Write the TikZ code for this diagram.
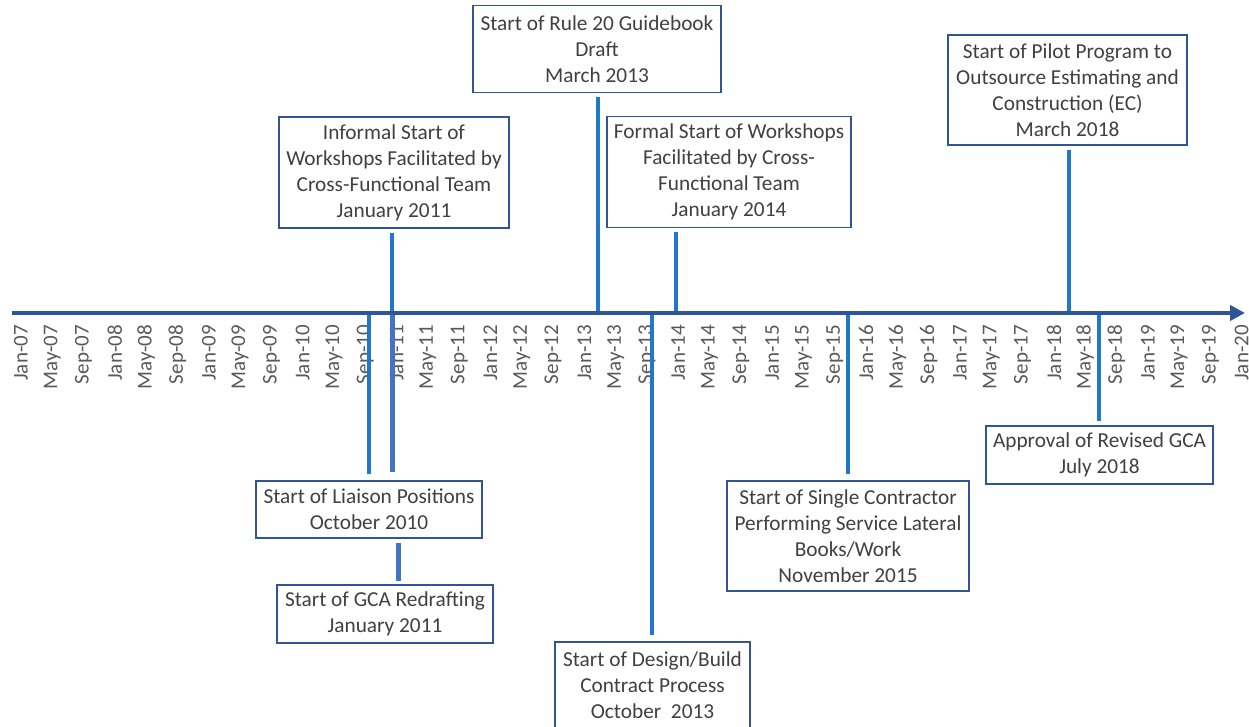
\documentclass[tikz,border=0pt]{standalone}
\usepackage{fontspec}
\setmainfont{Carlito}
\usetikzlibrary{arrows.meta}
\definecolor{axisblue}{RGB}{47,85,151}
\definecolor{linkblue}{RGB}{33,119,204}
\definecolor{gcablue}{RGB}{68,114,196}
\definecolor{boxblue}{RGB}{47,85,151}
\definecolor{txt}{RGB}{64,64,64}
\definecolor{ticktxt}{RGB}{89,89,89}
\begin{document}
\begin{tikzpicture}[x=1pt,y=-1pt,
  evbox/.style={draw=boxblue, line width=1.6pt, fill=white, align=center, text=txt, inner sep=0pt, font=\fontsize{21.3}{26}\selectfont},
  link/.style={draw=linkblue, line width=4pt},
  gcalink/.style={draw=gcablue, line width=5pt},
  ticklabel/.style={rotate=90, anchor=east, inner sep=0pt, text=ticktxt, font=\fontsize{21}{24}\selectfont}]
\useasboundingbox (0,0) rectangle (1249,726);
\clip (0,0) rectangle (1249,726);

% tick labels
\foreach \i in {0,...,39}{
  \pgfmathtruncatemacro{\yr}{7+floor(\i/3)}
  \pgfmathtruncatemacro{\mo}{mod(\i,3)}
  \node[ticklabel] (tick\i) at (21+31.3*\i, 325) {\ifcase\mo Jan\or May\or Sep\fi-\ifnum\yr<10 0\fi\yr};
}

% axis points
\coordinate (axL) at (12,313);
\coordinate (axR) at (1245,313);
\coordinate (tRule) at (598,313);
\coordinate (tInf) at (392,313);
\coordinate (tFormal) at (676,313);
\coordinate (tPilot) at (1069,313);
\coordinate (tLiaison) at (369,313);
\coordinate (tGCA) at (392,313);
\coordinate (tDesign) at (652,313);
\coordinate (tSingle) at (848,313);
\coordinate (tApproval) at (1099,313);
\coordinate (gcaMid) at (398,538);

% boxes
\node[evbox, minimum width=248, minimum height=87] (rule) at (597,49)
  {Start of Rule 20 Guidebook\\Draft\\March 2013};
\node[evbox, minimum width=230, minimum height=111] (inf) at (394,172.5)
  {Informal Start of\\Workshops Facilitated by\\Cross-Functional Team\\January 2011};
\node[evbox, minimum width=244, minimum height=111] (formal) at (729,172)
  {Formal Start of Workshops\\Facilitated by Cross-\\Functional Team\\January 2014};
\node[evbox, minimum width=239, minimum height=110] (pilot) at (1067.5,90)
  {Start of Pilot Program to\\Outsource Estimating and\\Construction (EC)\\March 2018};
\node[evbox, minimum width=226, minimum height=57] (liaison) at (369,509.5)
  {Start of Liaison Positions\\October 2010};
\node[evbox, minimum width=216, minimum height=58] (gca) at (385,614)
  {Start of GCA Redrafting\\January 2011};
\node[evbox, minimum width=195, minimum height=86] (design) at (652.5,685)
  {Start of Design/Build\\Contract Process\\October\ \ 2013};
\node[evbox, minimum width=242, minimum height=110] (single) at (848,536)
  {Start of Single Contractor\\Performing Service Lateral\\Books/Work\\November 2015};
\node[evbox, minimum width=227, minimum height=58] (approval) at (1099.5,455)
  {Approval of Revised GCA\\July 2018};

% connectors
\draw[link, shorten >=4pt] (tRule) -- (tRule |- rule.south);
\draw[link, shorten >=4pt] (tInf) -- (tInf |- inf.south);
\draw[link, shorten >=4pt] (tFormal) -- (tFormal |- formal.south);
\draw[link, shorten >=4pt] (tPilot) -- (tPilot |- pilot.south);
\draw[link, shorten >=6pt] (tLiaison) -- (tLiaison |- liaison.north);
\draw[gcalink, shorten >=8pt] (tGCA) -- (tGCA |- liaison.north);
\draw[gcalink, shorten <=5pt, shorten >=3pt] (gcaMid) -- (gcaMid |- gca.north);
\draw[link, shorten >=6pt] (tDesign) -- (tDesign |- design.north);
\draw[link, shorten >=6pt] (tSingle) -- (tSingle |- single.north);
\draw[link, shorten >=4pt] (tApproval) -- (tApproval |- approval.north);

% axis
\draw[draw=axisblue, line width=4.5pt, -{Triangle[length=15pt,width=15pt]}] (axL) -- (axR);
\end{tikzpicture}
\end{document}
